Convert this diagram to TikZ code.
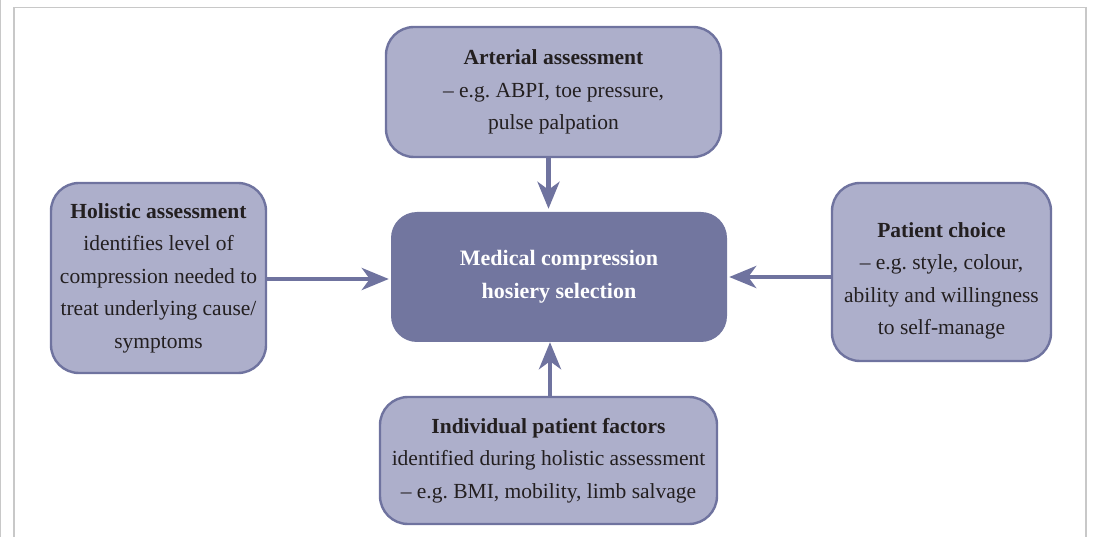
\documentclass[tikz,border=0pt]{standalone}
\usepackage{fontspec}
\setmainfont{Liberation Serif}
\frenchspacing
\usetikzlibrary{arrows.meta}
\definecolor{boxfill}{HTML}{ADAFCB}
\definecolor{boxline}{HTML}{6F739F}
\definecolor{cenfill}{HTML}{72769F}
\definecolor{txt}{HTML}{231F20}
\definecolor{frame}{HTML}{C8C8C8}
\tikzset{
  boxfont/.style={font=\fontsize{21.5}{32.5}\selectfont},
  box/.style={draw=boxline, line width=2.4pt, fill=boxfill, rounded corners=28pt,
    align=center, inner sep=0pt, text=txt, boxfont},
  cenbox/.style={fill=cenfill, rounded corners=26pt, align=center, inner sep=0pt,
    text=white, font=\fontsize{22}{33}\selectfont\bfseries},
  conn/.style={draw=boxline, line width=4.5pt,
    -{Stealth[length=27pt, width=22pt, inset=8pt]}},
  framel/.style={draw=frame, line width=1.3pt}
}
\begin{document}
\begin{tikzpicture}[x=1pt,y=-1pt]
\useasboundingbox (0,0) rectangle (1093,537);
% frame
\draw[framel] (0.7,0) -- (0.7,537);
\draw[framel] (14,537) -- (14,7.5) -- (1086,7.5) -- (1086,537);
% boxes
\node[box, minimum width=335pt, minimum height=130pt] (art) at (553.5,92)
  {\textbf{Arterial assessment}\\– e.g. ABPI, toe pressure,\\pulse palpation};
\node[box, minimum width=215pt, minimum height=190pt] (hol) at (158.5,278)
  {\textbf{Holistic assessment}\\identifies level of\\compression needed to\\treat underlying cause/\\symptoms};
\node[cenbox, minimum width=336pt, minimum height=130pt] (cen) at (559,277)
  {Medical compression\\hosiery selection};
\node[box, minimum width=219pt, minimum height=178pt,
  label={[name=pctext, align=center, text=txt, boxfont, yshift=-9pt]center:{\textbf{Patient choice}\\– e.g. style, colour,\\ability and willingness\\to self-manage}}] (pc) at (941.5,272) {};
\node[box, minimum width=337pt, minimum height=127pt] (ind) at (548.5,460.5)
  {\textbf{Individual patient factors}\\identified during holistic assessment\\– e.g. BMI, mobility, limb salvage};
% connectors
\draw[conn, shorten >=3pt] ([xshift=-5pt]art.south) -- ([xshift=-5pt]art.south |- cen.north);
\draw[conn, shorten >=2pt] ([yshift=-1pt]hol.east) -- ([yshift=-1pt]hol.east -| cen.west);
\draw[conn, shorten >=2pt] ([yshift=-5pt]pc.west) -- (cen.east);
\draw[conn] ([xshift=1.5pt]ind.north) -- ([xshift=1.5pt]ind.north |- cen.south);
\end{tikzpicture}
\end{document}
